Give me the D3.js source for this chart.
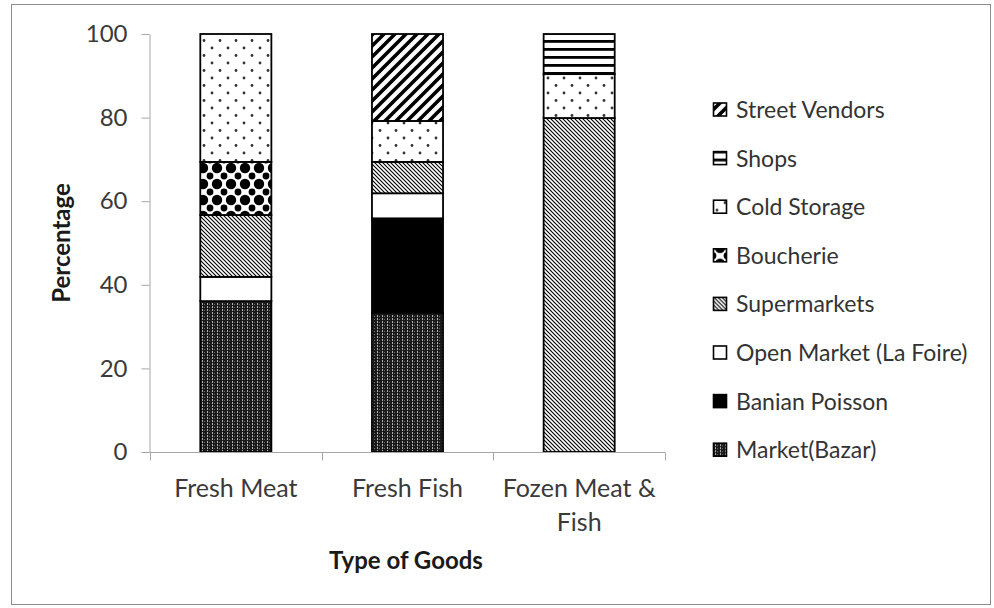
<!DOCTYPE html>
<html>
<head>
<meta charset="utf-8">
<script src="https://cdn.jsdelivr.net/npm/d3@7"></script>
<style>
  body { margin: 0; background: #fff; }
  text { font-family: Lato, "Open Sans", sans-serif; }
</style>
</head>
<body>
<svg id="chart" width="994" height="608"></svg>
<script>
// categories on the x axis
var goods = ["Fresh Meat", "Fresh Fish", "Fozen Meat & Fish"];
var goodsLabels = [["Fresh Meat"], ["Fresh Fish"], ["Fozen Meat &", "Fish"]];

// series, stacked from the bottom up
var outlets = ["Market(Bazar)", "Banian Poisson", "Open Market (La Foire)", "Supermarkets",
               "Boucherie", "Cold Storage", "Shops", "Street Vendors"];

// percentage per outlet, one value per category (same order as goods)
var bazar       = [36.1, 33.3, 0];
var banian      = [0, 22.6, 0];
var openMarket  = [5.8, 6.0, 0];
var supermarket = [14.8, 7.5, 79.9];
var boucherie   = [12.7, 0, 0];
var coldStorage = [30.6, 9.8, 10.5];
var shops       = [0, 0, 9.6];
var street      = [0, 20.8, 0];

var yTicks = [0, 20, 40, 60, 80, 100];

var seriesValues = [bazar, banian, openMarket, supermarket, boucherie, coldStorage, shops, street];

// table for d3.stack
var table = goods.map(function(g, i) {
  var row = { goods: g };
  outlets.forEach(function(o, j) { row[o] = seriesValues[j][i]; });
  return row;
});

var svg = d3.select("#chart");

// outer frame
svg.append("rect")
  .attr("x", 11.5).attr("y", 4.5)
  .attr("width", 979).attr("height", 600)
  .attr("fill", "none").attr("stroke", "#8c8c8c").attr("stroke-width", 1);

// patterns
var defs = svg.append("defs");

function pat(id, w, h) {
  return defs.append("pattern").attr("id", id)
    .attr("patternUnits", "userSpaceOnUse")
    .attr("width", w).attr("height", h);
}

// Market(Bazar): dark with light vertical dotted columns
var p = pat("p-bazar", 5, 3);
p.append("rect").attr("width", 5).attr("height", 3).attr("fill", "#1a1a1a");
p.append("rect").attr("x", 2).attr("y", 0).attr("width", 1).attr("height", 2).attr("fill", "#b0b0b0");
p.append("rect").attr("x", 4).attr("y", 1).attr("width", 1).attr("height", 1).attr("fill", "#6a6a6a");

// Supermarkets: thin downward diagonals
p = pat("p-super", 4, 4);
p.append("rect").attr("width", 4).attr("height", 4).attr("fill", "#fff");
p.append("path").attr("d", "M0,0L4,4M-1,3L1,5M3,-1L5,1")
  .attr("stroke", "#000").attr("stroke-width", 1.1);

// Boucherie: large black dots in a checker
p = pat("p-bouch", 14, 16);
p.append("rect").attr("width", 14).attr("height", 16).attr("fill", "#fff");
p.append("circle").attr("cx", 7).attr("cy", 8).attr("r", 5.2).attr("fill", "#000");
[[0, 0], [14, 0], [0, 16], [14, 16]].forEach(function(c) {
  p.append("circle").attr("cx", c[0]).attr("cy", c[1]).attr("r", 3.4).attr("fill", "#000");
});

// Cold Storage: sparse staggered dots
p = pat("p-cold", 16, 15);
p.append("rect").attr("width", 16).attr("height", 15).attr("fill", "#fff");
p.append("circle").attr("cx", 4).attr("cy", 3).attr("r", 1.4).attr("fill", "#333");
p.append("circle").attr("cx", 12).attr("cy", 10.5).attr("r", 1.4).attr("fill", "#333");

// Shops: thick horizontal lines
p = pat("p-shops", 8, 8);
p.append("rect").attr("width", 8).attr("height", 8).attr("fill", "#fff");
p.append("rect").attr("y", 0).attr("width", 8).attr("height", 2.8).attr("fill", "#000");

// Street Vendors: wide upward diagonals
p = pat("p-street", 11, 11);
p.append("rect").attr("width", 11).attr("height", 11).attr("fill", "#fff");
p.append("path").attr("d", "M0,11L11,0M-3,3L3,-3M8,14L14,8")
  .attr("stroke", "#000").attr("stroke-width", 3.6);

var fills = ["url(#p-bazar)", "#000", "#fff", "url(#p-super)",
             "url(#p-bouch)", "url(#p-cold)", "url(#p-shops)", "url(#p-street)"];

// scales
var x = d3.scaleBand().domain(goods).range([150, 665]).padding(0);
var y = d3.scaleLinear().domain([0, 100]).range([452, 34]);
var barW = x.bandwidth() * 0.414;

// y axis
var yAxis = svg.append("g")
  .attr("transform", "translate(149.5,0)")
  .call(d3.axisLeft(y).tickValues(yTicks).tickSize(8).tickPadding(14).tickSizeOuter(0));
yAxis.select(".domain").attr("stroke", "#a6a6a6");
yAxis.selectAll(".tick line").attr("stroke", "#a6a6a6");
yAxis.selectAll(".tick text")
  .attr("font-size", 24).attr("fill", "#3a3a3a")
  .style("font-family", "Lato, sans-serif");

// stacked bars
var stack = d3.stack().keys(outlets)(table);

svg.append("g").selectAll("g")
  .data(stack)
  .join("g")
    .attr("fill", function(d, i) { return fills[i]; })
  .selectAll("rect")
  .data(function(d) { return d.filter(function(s) { return s[1] - s[0] > 0; }); })
  .join("rect")
    .attr("x", function(d) { return x(d.data.goods) + (x.bandwidth() - barW) / 2; })
    .attr("y", function(d) { return y(d[1]); })
    .attr("width", barW)
    .attr("height", function(d) { return y(d[0]) - y(d[1]); })
    .attr("stroke", "#000")
    .attr("stroke-width", 1.8);

// x axis
var xAxis = svg.append("g").attr("transform", "translate(0,452.5)");
xAxis.append("line")
  .attr("x1", 149.5).attr("x2", x.range()[1])
  .attr("stroke", "#a6a6a6");
var bounds = goods.map(function(g) { return x(g); }).concat([x.range()[1]]);
xAxis.selectAll(".xt")
  .data(bounds)
  .join("line")
    .attr("class", "xt")
    .attr("x1", function(d) { return Math.round(d) + 0.5; })
    .attr("x2", function(d) { return Math.round(d) + 0.5; })
    .attr("y1", 0).attr("y2", 8)
    .attr("stroke", "#a6a6a6");

var xl = xAxis.selectAll(".xl")
  .data(goods)
  .join("text")
    .attr("class", "xl")
    .attr("text-anchor", "middle")
    .attr("font-size", 25)
    .attr("fill", "#3a3a3a")
    .attr("y", 44);
xl.selectAll("tspan")
  .data(function(d, i) { return goodsLabels[i]; })
  .join("tspan")
    .attr("x", function() { var g = d3.select(this.parentNode).datum(); return x(g) + x.bandwidth() / 2; })
    .attr("dy", function(d, i) { return i === 0 ? 0 : 34; })
    .text(function(d) { return d; });

// axis titles
svg.append("text")
  .attr("x", 406).attr("y", 569)
  .attr("text-anchor", "middle")
  .attr("font-size", 24).attr("font-weight", "bold").attr("fill", "#1a1a1a")
  .text("Type of Goods");

svg.append("text")
  .attr("transform", "translate(70,243) rotate(-90)")
  .attr("text-anchor", "middle")
  .attr("font-size", 24).attr("font-weight", "bold").attr("fill", "#1a1a1a")
  .text("Percentage");

// legend, top entry is the last series
var legendOrder = outlets.slice().reverse();
var legendFills = fills.slice().reverse();
var leg = svg.append("g").selectAll("g")
  .data(legendOrder)
  .join("g")
    .attr("transform", function(d, i) { return "translate(713," + (110 + i * 48.6) + ")"; });
leg.append("rect")
  .attr("x", 0.5).attr("y", -7)
  .attr("width", 13).attr("height", 13)
  .attr("fill", function(d, i) { return legendFills[i]; })
  .attr("stroke", "#000").attr("stroke-width", 1.6);
leg.append("text")
  .attr("x", 23).attr("y", 0)
  .attr("dy", "0.35em")
  .attr("font-size", 23)
  .attr("fill", "#333")
  .text(function(d) { return d; });
</script>
</body>
</html>
